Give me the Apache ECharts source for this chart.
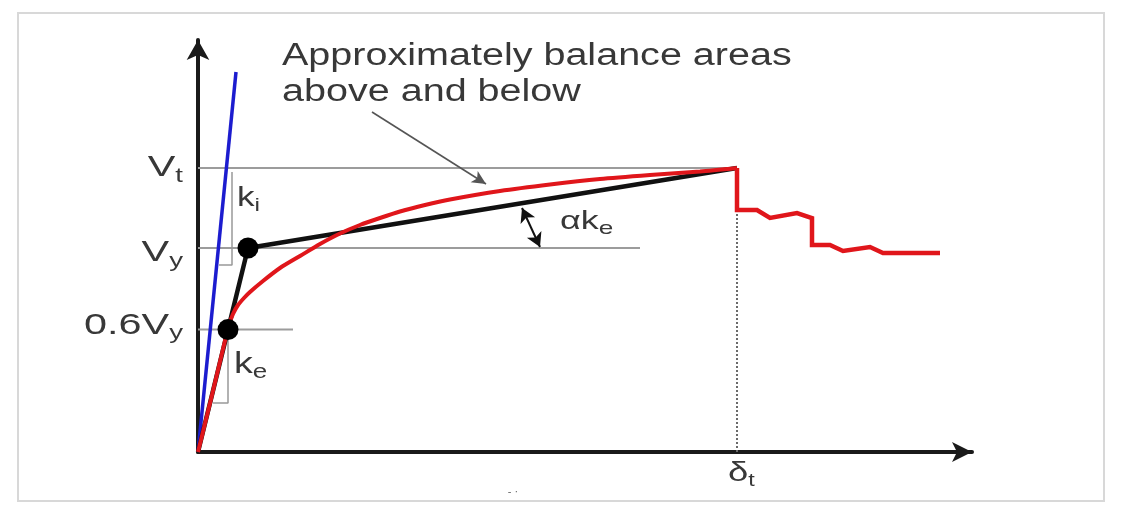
<!DOCTYPE html>
<html><head><meta charset="utf-8">
<script src="https://cdn.jsdelivr.net/npm/echarts@6/dist/echarts.min.js"></script>
<style>html,body{margin:0;padding:0;background:#fff}#c{width:1122px;height:517px}</style>
</head><body><div id="c"></div>
<script>
// ---- data (displacement on x, base shear on y, arbitrary units) ----
const pushoverX = [0, 14, 26, 31, 35, 40, 46, 52, 65, 82, 102, 122, 142, 162, 182, 202, 227, 252, 302, 352, 402, 452, 502, 539];
const pushoverY = [0, 57, 107, 127, 138, 147, 154, 160, 171, 184, 196, 208, 218.5, 227, 234, 240.5, 247, 252.5, 261, 267.5, 273, 277, 280.5, 284];
const degradeX = [539, 539, 559, 572, 599, 614, 614, 632, 645, 672, 685, 742];
const degradeY = [284, 242, 242, 234, 239, 234, 207, 207, 201, 205, 199, 199];
const bilinearX = [0, 30, 50, 539];
const bilinearY = [0, 122.4, 204, 284];
const initialX = [0, 38];
const initialY = [0, 380];
const levelNames = ['Vt', 'Vy', '0.6Vy'];
const levelValues = [284, 204, 122.4];
const levelLineEnds = [539, 442, 95];
const deltaT = 539;
const kiTriX = [21, 34, 34];
const kiTriY = [187, 187, 280];
const keTriX = [15, 30, 30];
const keTriY = [49, 49, 119];
const noteText = 'Approximately balance areas\nabove and below';
const noteArrow = [[174, 340], [288, 268]];
const alphaArc = [[324, 244], [342, 205]];

const zip = (xs, ys) => xs.map((x, i) => [x, ys[i]]);
const TXT = '#383838';
const FONT = '"Liberation Sans", Arial, sans-serif';

const chart = echarts.init(document.getElementById('c'), null, {renderer: 'canvas'});

const series = [];
levelValues.forEach((v, i) => {
  series.push({type: 'line', data: [[0, v], [levelLineEnds[i], v]], symbol: 'none', silent: true, z: 1,
    lineStyle: {color: '#9c9c9c', width: 2}});
});
series.push({type: 'line', data: [[deltaT, 0], [deltaT, degradeY[1]]], symbol: 'none', silent: true, z: 1,
  lineStyle: {color: '#6a6a6a', width: 2, type: [2, 2]}});
series.push({type: 'line', data: zip(kiTriX, kiTriY), symbol: 'none', silent: true, z: 1,
  lineStyle: {color: '#999', width: 1.5}});
series.push({type: 'line', data: zip(keTriX, keTriY), symbol: 'none', silent: true, z: 1,
  lineStyle: {color: '#999', width: 1.5}});
series.push({type: 'line', data: zip(initialX, initialY), symbol: 'none', silent: true, z: 2,
  lineStyle: {color: '#1c1ccf', width: 3.5}});
series.push({type: 'line', data: zip(bilinearX, bilinearY), symbol: 'none', silent: true, z: 3,
  lineStyle: {color: '#111', width: 4.5}});
series.push({type: 'line', data: zip(pushoverX, pushoverY), symbol: 'none', smooth: 0.25, silent: true, z: 4,
  lineStyle: {color: '#e0161b', width: 4}});
series.push({type: 'line', data: zip(degradeX, degradeY), symbol: 'none', silent: true, z: 4,
  lineStyle: {color: '#e0161b', width: 4.5, join: 'miter'}});
series.push({type: 'scatter', data: [[bilinearX[1], bilinearY[1]], [bilinearX[2], bilinearY[2]]],
  symbol: 'circle', symbolSize: 21, itemStyle: {color: '#000', opacity: 1}, silent: true, z: 6});
series.push({type: 'line', data: [], silent: true, z: 5,
  markLine: {silent: true, animation: false, symbol: ['none', 'arrow'], symbolSize: [10, 14], label: {show: false},
    lineStyle: {color: '#555', width: 1.6, type: 'solid'},
    data: [[{coord: noteArrow[0]}, {coord: noteArrow[1]}]]}});
series.push({type: 'line', data: [], silent: true, z: 5,
  markLine: {silent: true, animation: false, symbol: ['arrow', 'arrow'], symbolSize: [12, 14], label: {show: false},
    lineStyle: {color: '#111', width: 2, type: 'solid', curveness: 0.55},
    data: [[{coord: alphaArc[0]}, {coord: alphaArc[1]}]]}});

chart.setOption({
  animation: false,
  backgroundColor: '#fff',
  grid: {left: 198, right: 150, top: 40, bottom: 65},
  xAxis: {type: 'value', min: 0, max: 774, splitLine: {show: false}, axisTick: {show: false}, axisLabel: {show: false},
    axisLine: {show: true, onZero: false, symbol: ['none', 'arrow'], symbolSize: [15, 20], lineStyle: {color: '#1a1a1a', width: 4}}},
  yAxis: {type: 'value', min: 0, max: 412, splitLine: {show: false}, axisTick: {show: false}, axisLabel: {show: false},
    axisLine: {show: true, onZero: false, symbol: ['none', 'arrow'], symbolSize: [17, 20], lineStyle: {color: '#1a1a1a', width: 4}}},
  series: series
});

const px = (x, y) => chart.convertToPixel({gridIndex: 0}, [x, y]);
function subText(main, sub, fs, sfs, x, y, align, sx) {
  return {type: 'text', x: x, y: y, scaleX: sx, z: 100, silent: true,
    style: {text: '{m|' + main + '}{s|' + sub + '}', align: align, verticalAlign: 'middle',
      rich: {
        m: {fontSize: fs, lineHeight: fs + 6, fontFamily: FONT, fill: TXT},
        s: {fontSize: sfs, lineHeight: sfs - 2, fontFamily: FONT, fill: TXT, verticalAlign: 'bottom'}
      }}};
}
const origin = px(0, 0);
const gfx = [];
gfx.push({type: 'rect', shape: {x: 18, y: 13, width: 1086, height: 488}, silent: true, z: 0,
  style: {fill: 'none', stroke: '#d8d8d8', lineWidth: 2}});
const labelOffsets = [0, 5, -4];
levelNames.forEach((n, i) => {
  const p = px(0, levelValues[i]);
  const main = n.slice(0, n.length - 1), s = n.slice(n.length - 1);
  gfx.push(subText(main, s, 30, 20, origin[0] - 15, p[1] + labelOffsets[i], 'right', 1.38));
});
const pki = px(kiTriX[2], (kiTriY[0] + kiTriY[2]) / 2);
gfx.push(subText('k', 'i', 27, 19, pki[0] + 5, pki[1] - 20, 'left', 1.3));
const pke = px(keTriX[2], (keTriY[0] + keTriY[2]) / 2);
gfx.push(subText('k', 'e', 29, 20, pke[0] + 6, pke[1] - 3, 'left', 1.3));
const pa = px(alphaArc[1][0], alphaArc[0][1]);
gfx.push(subText('\u03b1k', 'e', 26, 19, pa[0] + 20, pa[1] + 14, 'left', 1.38));
const pd = px(deltaT, 0);
gfx.push(subText('\u03b4', 't', 28, 18, pd[0] - 9, pd[1] + 21, 'left', 1.3));
gfx.push({type: 'text', x: 282, y: 38, scaleX: 1.275, z: 100, silent: true,
  style: {text: noteText, fontSize: 31, lineHeight: 36, fontFamily: FONT, fill: TXT, align: 'left', verticalAlign: 'top'}});
gfx.push({type: 'text', x: 513, y: 492, z: 100, silent: true,
  style: {text: '- \u00b7', fontSize: 11, fontFamily: FONT, fill: '#666', align: 'center', verticalAlign: 'middle'}});
chart.setOption({graphic: gfx});
</script></body></html>
